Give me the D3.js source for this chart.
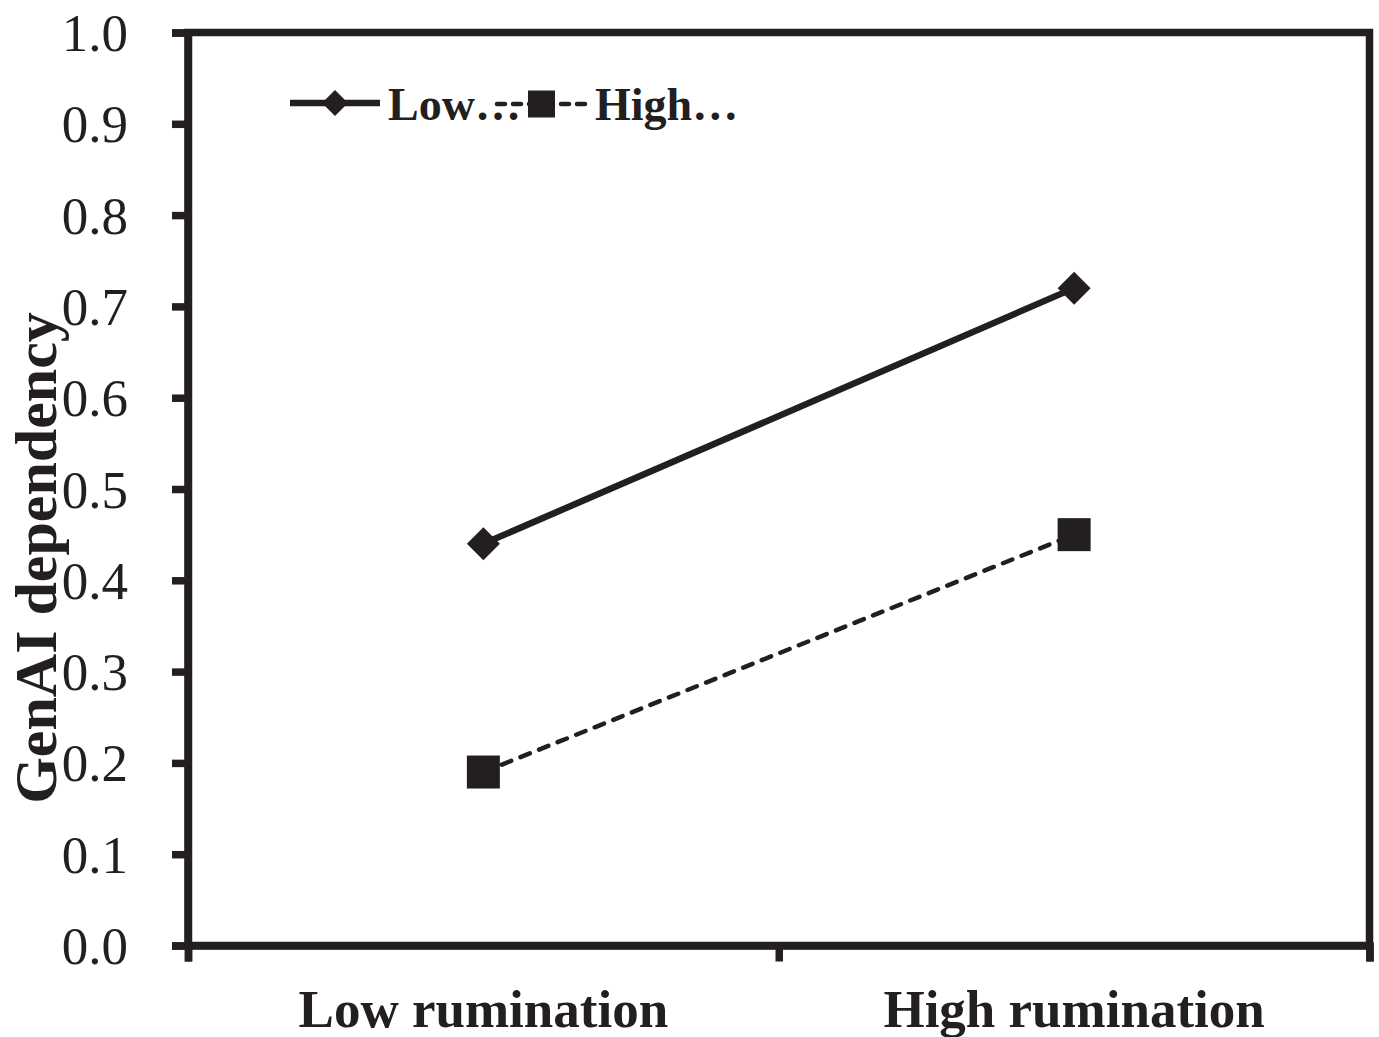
<!DOCTYPE html>
<html>
<head>
<meta charset="utf-8">
<script src="https://cdn.jsdelivr.net/npm/d3@7"></script>
<style>
  body { margin: 0; background: #fff; }
  text { font-family: "Liberation Serif", "Times New Roman", serif; fill: #231f20; }
</style>
</head>
<body>
<div id="chart"></div>
<script>
// data
const categories = ["Low rumination", "High rumination"];
const seriesNames = ["Low…", "High…"];
const lowValues = [0.44, 0.72];
const highValues = [0.19, 0.45];
const yTicks = [0, 0.1, 0.2, 0.3, 0.4, 0.5, 0.6, 0.7, 0.8, 0.9, 1.0];

const ink = "#231f20";
const margin = { top: 32.5, right: 9.5, bottom: 91.5, left: 188 },
    width = 1379 - margin.left - margin.right,
    height = 1037 - margin.top - margin.bottom;

const svg = d3.select("#chart")
    .append("svg")
    .attr("width", 1379)
    .attr("height", 1037)
    .append("g")
    .attr("transform", `translate(${margin.left}, ${margin.top})`);

const x = d3.scaleBand()
    .domain(categories)
    .range([0, width])
    .padding(0);

const y = d3.scaleLinear()
    .domain([0, 1])
    .range([height, 0]);

// frame
svg.append("rect")
    .attr("x", 0).attr("y", 0)
    .attr("width", width).attr("height", height)
    .attr("fill", "none")
    .attr("stroke", ink)
    .attr("stroke-width", 7.5);

// y axis
const yAxis = svg.append("g")
    .call(d3.axisLeft(y).tickValues(yTicks).tickFormat(d3.format(".1f")).tickSize(16).tickPadding(44));
yAxis.select(".domain").attr("stroke", ink).attr("stroke-width", 7.5);
yAxis.selectAll(".tick line").attr("stroke", ink).attr("stroke-width", 7.5);
yAxis.selectAll("text")
    .style("font-size", "53px")
    .attr("fill", ink)
    .attr("dy", "0.34em");

// x axis ticks at category boundaries
const xb = d3.scaleLinear().domain([0, categories.length]).range([0, width]);
const xAxis = svg.append("g")
    .attr("transform", `translate(0, ${height})`)
    .call(d3.axisBottom(xb).tickValues(d3.range(categories.length + 1)).tickFormat("").tickSize(16));
xAxis.select(".domain").attr("stroke", ink).attr("stroke-width", 7.5);
xAxis.selectAll(".tick line").attr("stroke", ink).attr("stroke-width", 7.5);

// category labels
svg.selectAll(".cat")
    .data(categories)
    .join("text")
    .attr("class", "cat")
    .attr("x", d => x(d) + x.bandwidth() / 2)
    .attr("y", height + 81.5)
    .attr("text-anchor", "middle")
    .style("font-size", "53px")
    .style("font-weight", "bold")
    .text(d => d);

// y title
svg.append("text")
    .attr("transform", "rotate(-90)")
    .attr("x", -(558 - margin.top))
    .attr("y", 56 - margin.left)
    .attr("text-anchor", "middle")
    .style("font-size", "60px")
    .style("font-weight", "bold")
    .text("GenAI dependency");

const line = d3.line()
    .x((d, i) => x(categories[i]) + x.bandwidth() / 2)
    .y(d => y(d));

// low series (solid, diamonds)
svg.append("path")
    .datum(lowValues)
    .attr("d", line)
    .attr("fill", "none")
    .attr("stroke", ink)
    .attr("stroke-width", 6.5);

const diamond = s => `M0,${-s}L${s},0L0,${s}L${-s},0Z`;
svg.selectAll(".dia")
    .data(lowValues)
    .join("path")
    .attr("class", "dia")
    .attr("transform", (d, i) => `translate(${x(categories[i]) + x.bandwidth() / 2}, ${y(d)})`)
    .attr("d", diamond(16.5))
    .attr("fill", ink);

// high series (dashed, squares)
svg.append("path")
    .datum(highValues)
    .attr("d", line)
    .attr("fill", "none")
    .attr("stroke", ink)
    .attr("stroke-width", 4.5)
    .attr("stroke-linecap", "round")
    .attr("stroke-dasharray", "10 10");

svg.selectAll(".sq")
    .data(highValues)
    .join("rect")
    .attr("class", "sq")
    .attr("x", (d, i) => x(categories[i]) + x.bandwidth() / 2 - 16.5)
    .attr("y", d => y(d) - 16.5)
    .attr("width", 33)
    .attr("height", 33)
    .attr("fill", ink);

// legend
const legend = svg.append("g").attr("transform", `translate(${290 - margin.left}, ${103 - margin.top})`);
legend.append("text")
    .attr("x", 98).attr("y", 17)
    .style("font-size", "46px").style("font-weight", "bold")
    .text(seriesNames[0]);
legend.append("text")
    .attr("x", 305).attr("y", 17)
    .style("font-size", "46px").style("font-weight", "bold")
    .text(seriesNames[1]);
legend.append("line")
    .attr("x1", 0).attr("x2", 90).attr("y1", 0).attr("y2", 0)
    .attr("stroke", ink).attr("stroke-width", 6.5);
legend.append("path")
    .attr("transform", "translate(45,0)")
    .attr("d", diamond(13))
    .attr("fill", ink);
legend.append("line")
    .attr("x1", 207).attr("x2", 297).attr("y1", 1).attr("y2", 1)
    .attr("stroke", ink).attr("stroke-width", 4.5)
    .attr("stroke-linecap", "round")
    .attr("stroke-dasharray", "8 8");
legend.append("rect")
    .attr("x", 238).attr("y", -12.5)
    .attr("width", 27).attr("height", 27)
    .attr("fill", ink);
</script>
</body>
</html>
